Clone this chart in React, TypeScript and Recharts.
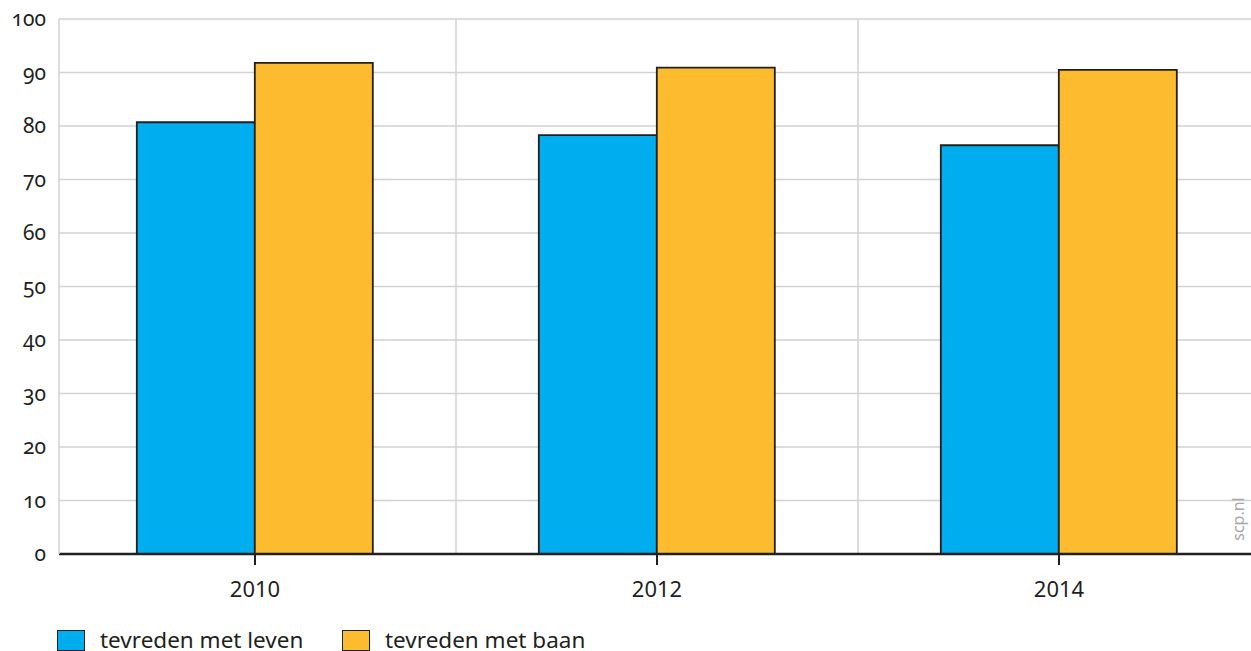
import React from 'react';
import { BarChart, Bar, XAxis, YAxis, CartesianGrid } from 'recharts';

const years = ['2010', '2012', '2014'];
const leven = [80.7, 78.3, 76.4];
const baan = [91.8, 90.9, 90.5];
const yTicks = [0, 10, 20, 30, 40, 50, 60, 70, 80, 90, 100];
const seriesNames = ['tevreden met leven', 'tevreden met baan'];

const BLUE = '#00aeef';
const ORANGE = '#fdbb30';
const DARK = '#231f20';
const GRID = '#d2d2d2';
const FONT = '"Noto Sans", "Open Sans", sans-serif';
const PAD_LEFT = -5; // bands start a little left of the y axis line

const data = years.map((year, i) => ({ year, leven: leven[i], baan: baan[i] }));

// vertical grid lines go between the years, i.e. at the band borders
const bandBorders = ({ offset }: any) => {
    if (!offset) return [];
    const start = offset.left + PAD_LEFT;
    const step = (offset.width - PAD_LEFT) / years.length;
    return years.slice(1).map((_, i) => start + step * (i + 1));
};

const LegendItem: React.FC<{ color: string; label: string; left: number }> = ({ color, label, left }) => (
    <div style={{ position: 'absolute', left, top: 629, height: 22, display: 'flex', alignItems: 'center' }}>
        <div style={{ width: 26, height: 19, background: color, border: `1.5px solid ${DARK}` }} />
        <span style={{ marginLeft: 15, fontSize: 22.5, color: DARK, fontFamily: FONT, lineHeight: '22px' }}>{label}</span>
    </div>
);

export default function App() {
    return (
        <div style={{ position: 'absolute', left: 0, top: 0, width: 1251, height: 651, overflow: 'hidden', background: '#fff' }}>
            <BarChart
                width={1260}
                height={651}
                data={data}
                margin={{ top: 19, right: 0, bottom: 57, left: 0 }}
                barGap={0}
                barCategoryGap="20.6%"
            >
                <CartesianGrid stroke={GRID} strokeWidth={1.5} verticalCoordinatesGenerator={bandBorders} />
                <XAxis
                    dataKey="year"
                    padding={{ left: PAD_LEFT, right: 0 }}
                    height={40}
                    axisLine={{ stroke: DARK, strokeWidth: 2.5 }}
                    tickLine={{ stroke: DARK, strokeWidth: 2 }}
                    tickSize={11}
                    tickMargin={16}
                    tick={{ fill: DARK, fontSize: 22, fontFamily: FONT }}
                />
                <YAxis
                    domain={[0, 100]}
                    ticks={yTicks}
                    width={59}
                    axisLine={{ stroke: GRID, strokeWidth: 1.5 }}
                    tickLine={false}
                    tickSize={0}
                    tickMargin={13}
                    tick={{ fill: DARK, fontSize: 21, fontFamily: FONT, style: { fontVariantNumeric: 'oldstyle-nums' } }}
                />
                <Bar dataKey="leven" name={seriesNames[0]} fill={BLUE} stroke={DARK} strokeWidth={1.8} isAnimationActive={false} />
                <Bar dataKey="baan" name={seriesNames[1]} fill={ORANGE} stroke={DARK} strokeWidth={1.8} isAnimationActive={false} />
            </BarChart>
            <div
                style={{
                    position: 'absolute',
                    left: 1238,
                    top: 519,
                    transform: 'translate(-50%, -50%) rotate(-90deg)',
                    fontSize: 16,
                    color: '#a7a7a7',
                    fontFamily: FONT,
                    whiteSpace: 'nowrap',
                }}
            >
                scp.nl
            </div>
            <LegendItem color={BLUE} label={seriesNames[0]} left={57} />
            <LegendItem color={ORANGE} label={seriesNames[1]} left={342} />
        </div>
    );
}
